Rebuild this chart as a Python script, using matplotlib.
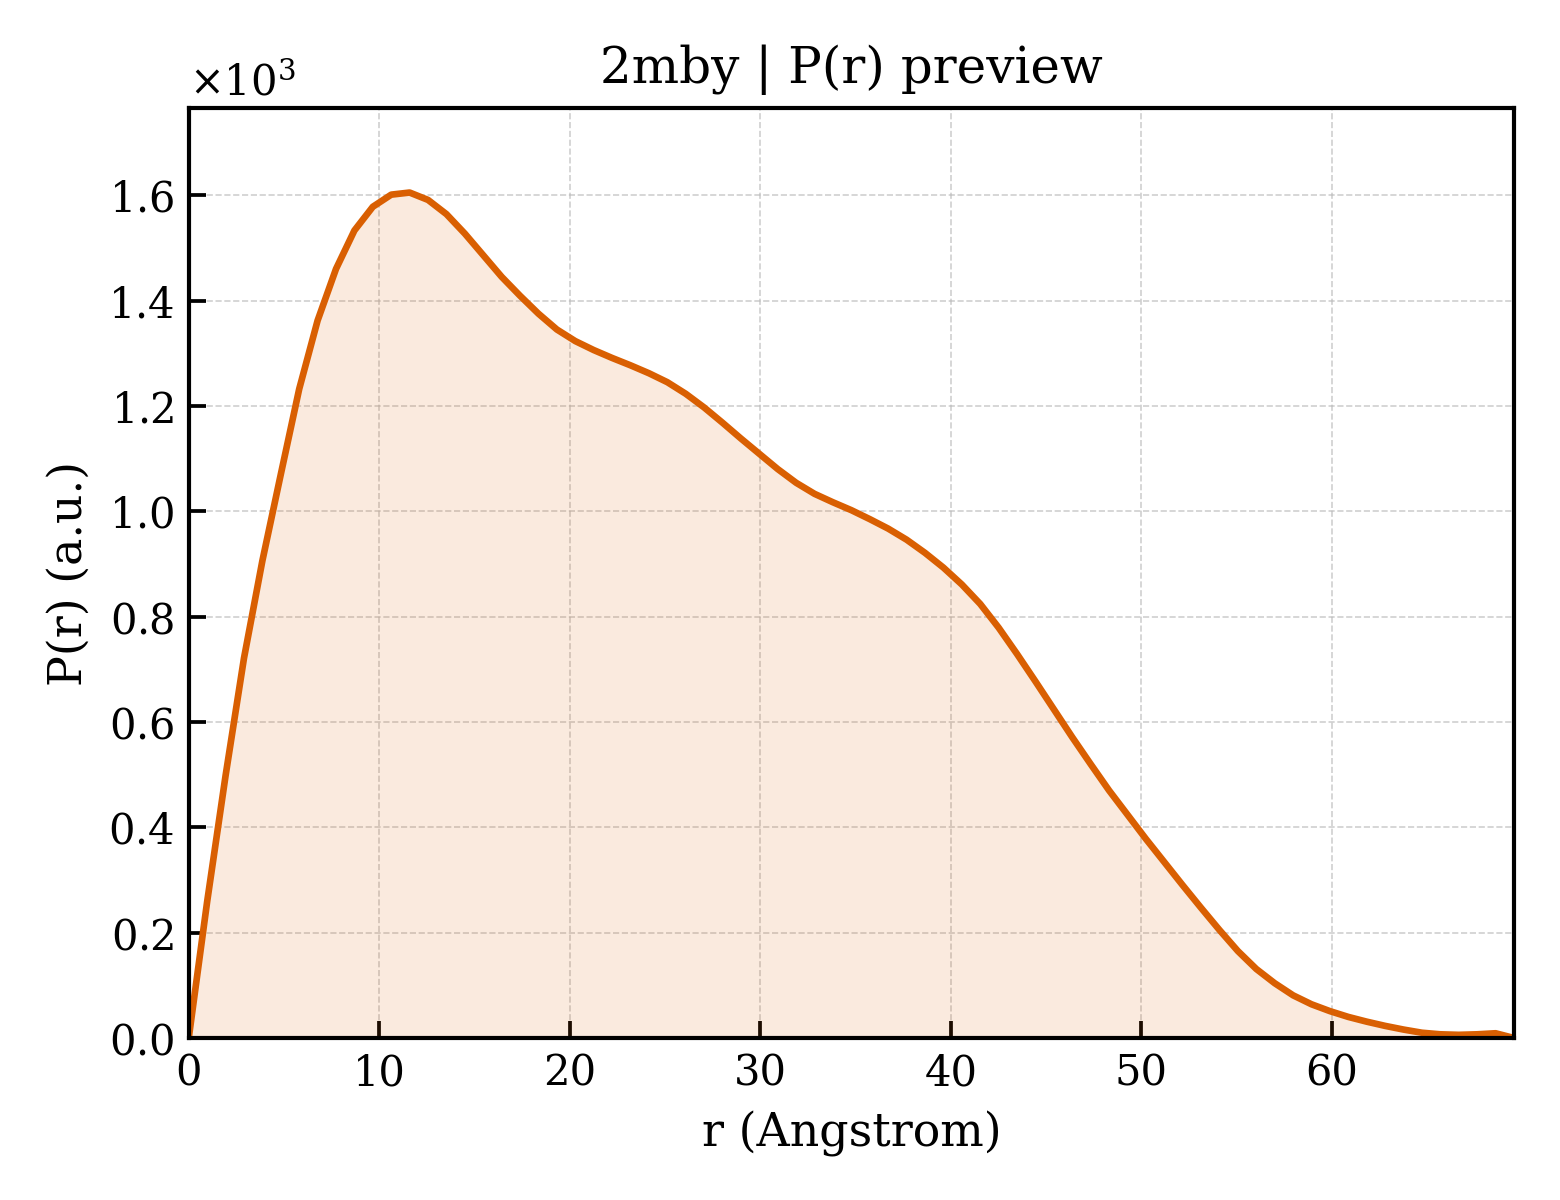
import numpy as np
import matplotlib
matplotlib.use("Agg")
import matplotlib.pyplot as plt

# r grid (Angstrom): 73 samples from 0 to Dmax
r_max = 69.55
n_points = 73
r = np.linspace(0.0, r_max, n_points)

# P(r) values (a.u.)
pr = [
    0, 259, 498, 721, 906, 1070, 1232, 1362, 1460, 1533,
    1578, 1601, 1605, 1591, 1564, 1527, 1486, 1445, 1409, 1375,
    1345, 1323, 1306, 1291, 1277, 1262, 1245, 1223, 1197, 1168,
    1138, 1109, 1080, 1054, 1033, 1017, 1002, 985, 967, 946,
    921, 893, 861, 824, 779, 729, 677, 624, 571, 520,
    470, 424, 378, 334, 290, 247, 205, 165, 131, 104,
    81, 64, 51, 40, 31, 23, 16, 10, 7, 6,
    7, 9, 0,
]
pr = np.array(pr, dtype=float)

title = "2mby | P(r) preview"
xlabel = "r (Angstrom)"
ylabel = "P(r) (a.u.)"
color = "#D95F02"

plt.rcParams["font.family"] = ["DejaVu Serif"]
plt.rcParams["mathtext.fontset"] = "dejavuserif"

fig, ax = plt.subplots(figsize=(5.2, 4.0), dpi=300)
fig.subplots_adjust(left=0.121, right=0.9705, top=0.91, bottom=0.135)

ax.fill_between(r, pr, 0, color=color, alpha=0.13, linewidth=0)
ax.plot(r, pr, color=color, linewidth=1.6)

ax.set_xlim(0, r_max)
ax.set_ylim(0, pr.max() * 1.1)

ax.set_title(title, fontsize=12)
ax.set_xlabel(xlabel, fontsize=11)
ax.set_ylabel(ylabel, fontsize=11)

ax.ticklabel_format(axis="y", style="sci", scilimits=(0, 0), useMathText=True)
ax.yaxis.get_offset_text().set_fontsize(10)

ax.tick_params(direction="in", length=4, width=0.9, labelsize=10)
for s in ax.spines.values():
    s.set_linewidth(1.0)

ax.grid(True, linestyle="--", linewidth=0.4, color="#bbbbbb", alpha=0.7)
ax.set_axisbelow(True)

fig.savefig("out.png", dpi=300)
